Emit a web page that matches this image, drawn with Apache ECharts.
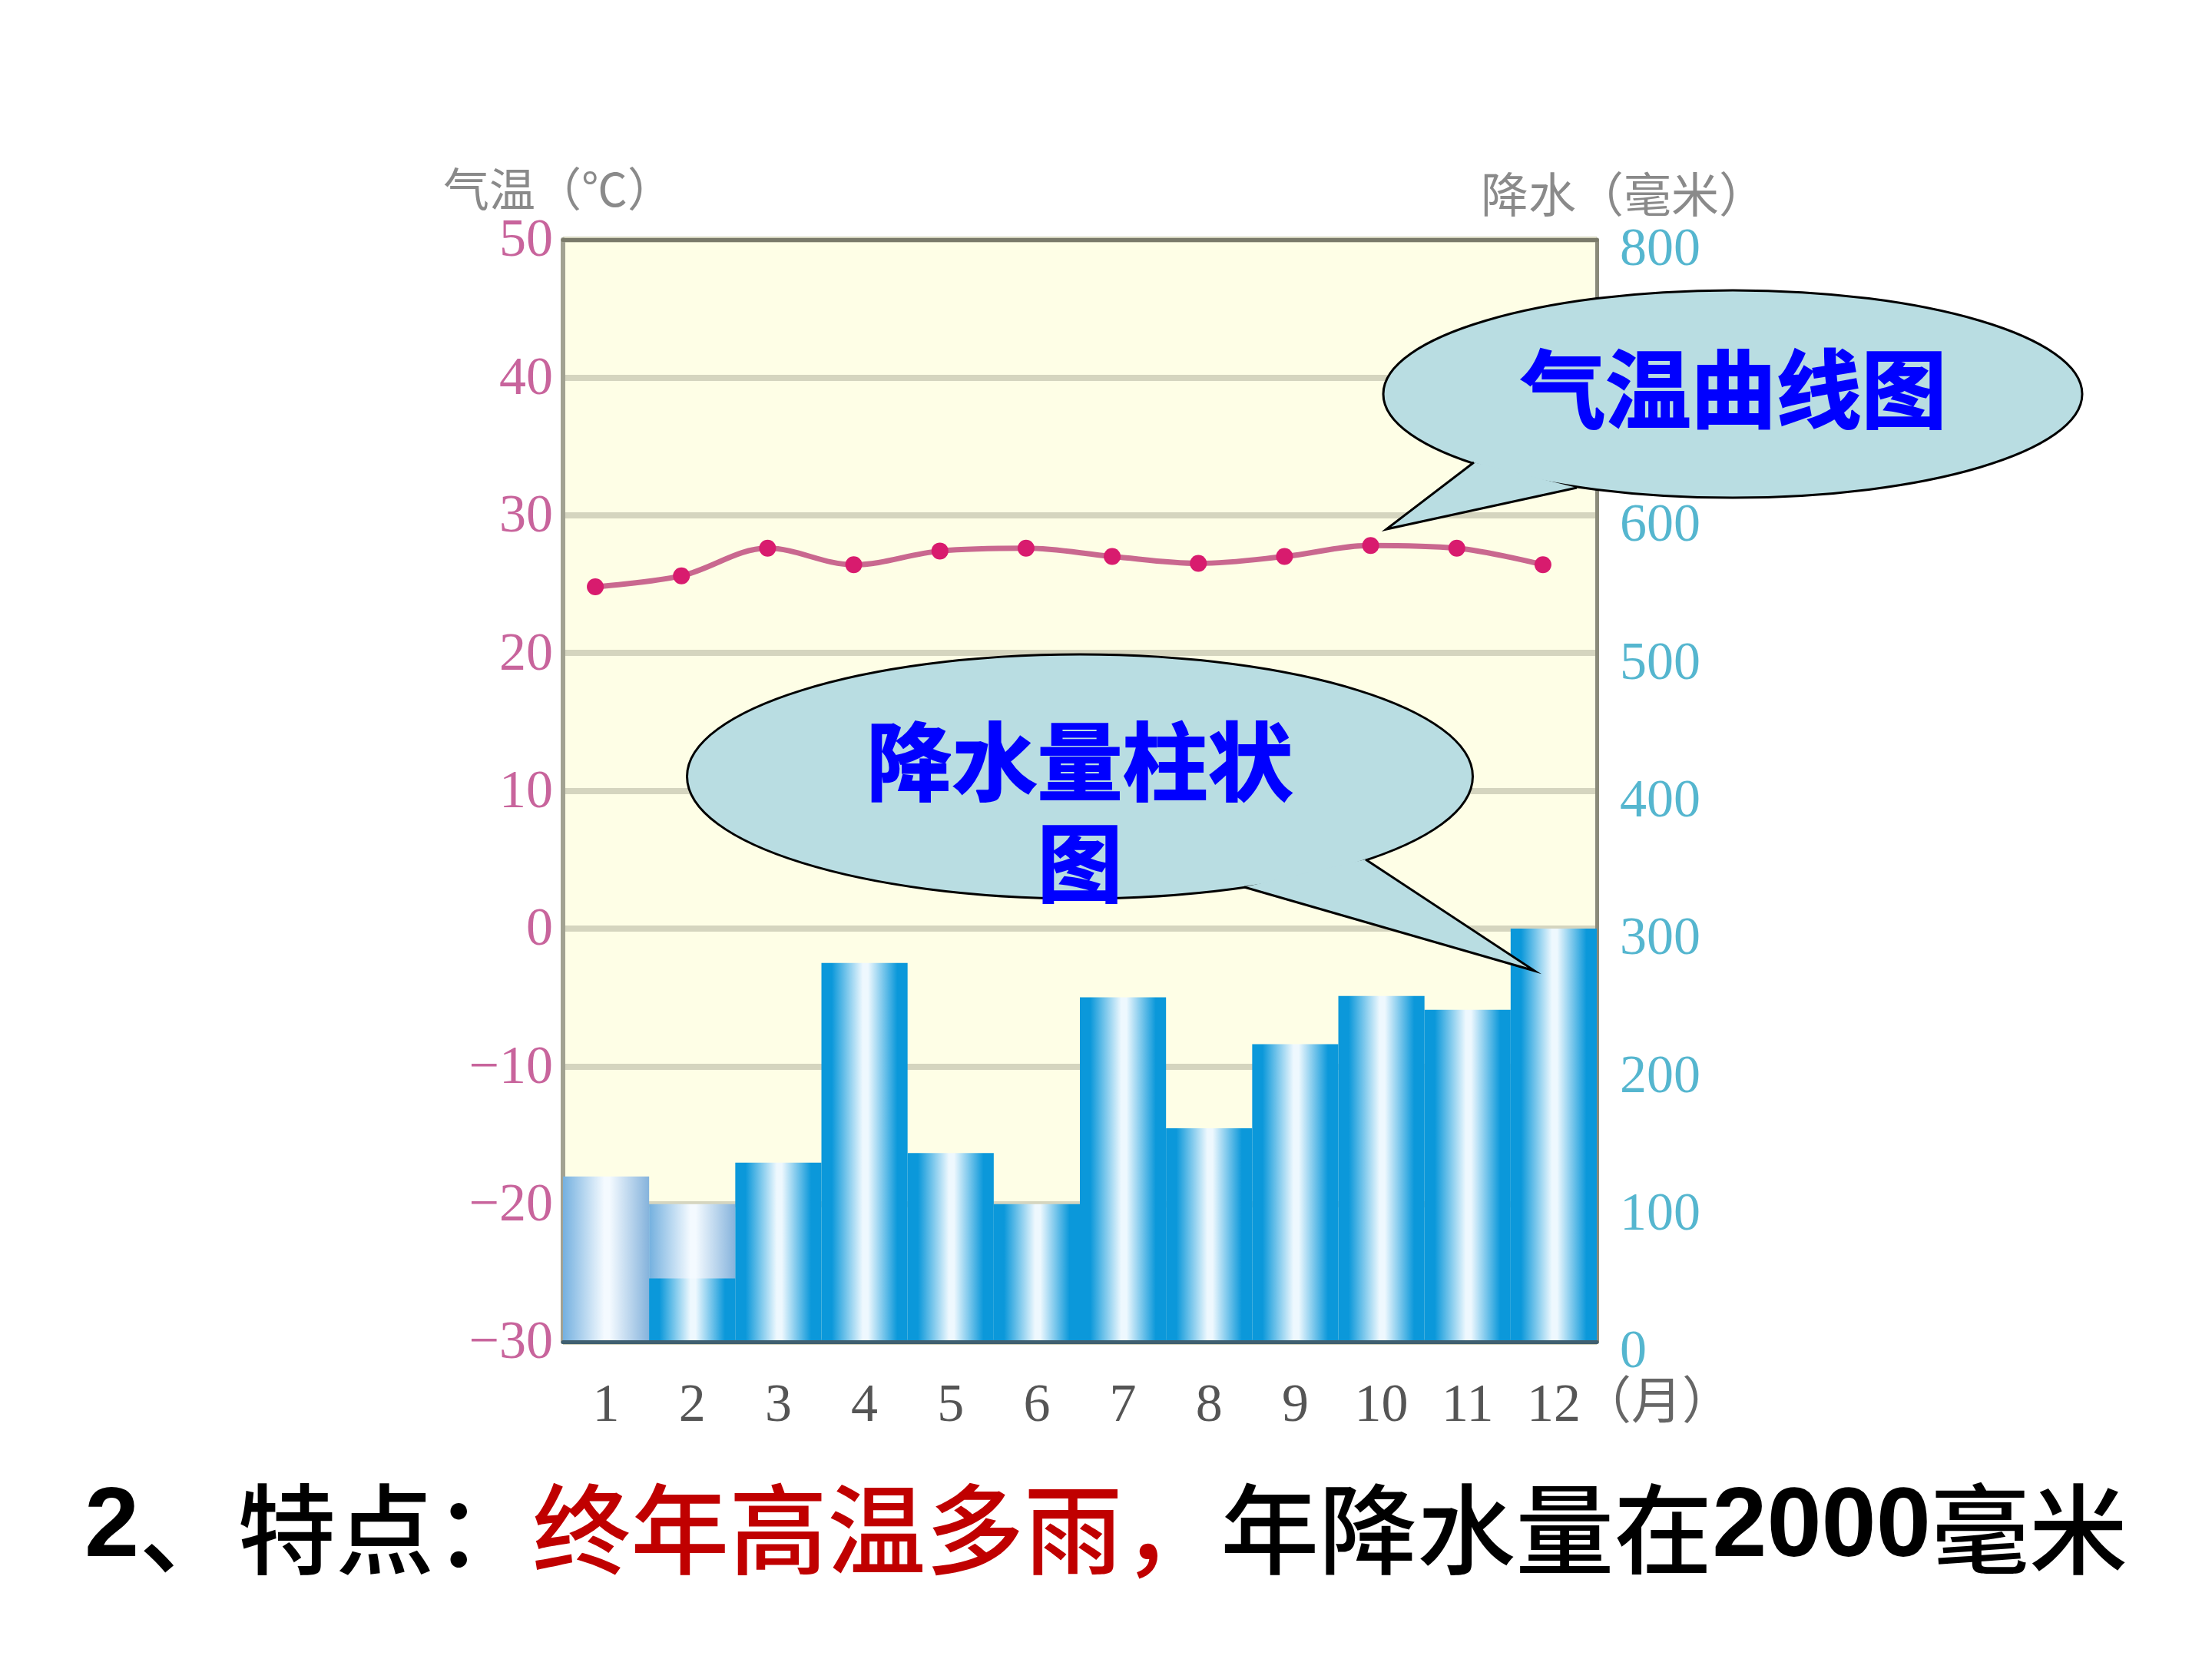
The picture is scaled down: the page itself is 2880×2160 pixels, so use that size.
<!DOCTYPE html>
<html>
<head>
<meta charset="utf-8">
<script src="https://cdn.jsdelivr.net/npm/echarts@6/dist/echarts.min.js"></script>
<style>html,body{margin:0;padding:0;background:#fff}#c{width:2880px;height:2160px}</style>
</head>
<body>
<div id="c"></div>
<script>
const months = ['1','2','3','4','5','6','7','8','9','10','11','12'];
const monthNumbers = [1,2,3,4,5,6,7,8,9,10,11,12];
const rainfall = [120,100,130,275,137,100,250,155,216,251,241,300];
const rainfallLowerBar2 = [null,46,null,null,null,null,null,null,null,null,null,null];
const temperature = [24.8,25.6,27.6,26.4,27.4,27.6,27.0,26.5,27.0,27.8,27.6,26.4];

const grad = (a,b,c,s=0) => new echarts.graphic.LinearGradient(0,0,1,0,[
  {offset:0,color:a},{offset:s,color:a},{offset:.48,color:b},{offset:.54,color:b},{offset:1-s,color:c},{offset:1,color:c}]);
const strongBar = grad('#0b98da','#eef8fe','#0b98da',.12);
const paleBar = grad('#74b0df','#f4faff','#85b3dc',0);
const serif = '"Liberation Serif"';
const cjk = '"Noto Sans CJK SC"';
const heavy = {font:'bold 111px "Noto Sans CJK SC"',fill:'#0000ff',stroke:'#0000ff',lineWidth:2,align:'center',verticalAlign:'middle'};
const captionFont = {fontFamily:cjk,fontWeight:500,fontSize:128};
const digitFont = {fontFamily:'"Liberation Sans"',fontWeight:'bold',fontSize:128};

const chart = echarts.init(document.getElementById('c'),null,{renderer:'canvas'});
chart.setOption({
  animation:false,
  backgroundColor:'#fff',
  grid:{left:733,right:801,top:312,bottom:413,show:true,backgroundColor:'#fefee6',borderWidth:0},
  xAxis:[
    {type:'category',data:months,position:'bottom',z:3,boundaryGap:true,
     axisLine:{show:true,onZero:false,lineStyle:{color:'#3f5f70',width:5}},axisTick:{show:false},
     axisLabel:{margin:50,fontFamily:serif,fontSize:70,color:'#555'},
     name:'（月）',nameLocation:'end',nameGap:-21,nameMoveOverlap:false,
     nameTextStyle:{fontFamily:cjk,fontSize:66,color:'#666',verticalAlign:'top',lineHeight:150}},
    {type:'value',min:0.625,max:12.625,position:'top',
     axisLine:{show:true,onZero:false,lineStyle:{color:'#7a7a6a',width:5}},axisTick:{show:false},
     axisLabel:{show:false},splitLine:{show:false}}
  ],
  yAxis:[
    {type:'value',min:-30,max:50,interval:10,position:'left',
     axisLine:{show:true,onZero:false,lineStyle:{color:'#a2a292',width:6}},axisTick:{show:false},
     axisLabel:{margin:13,fontFamily:serif,fontSize:70,color:'#c8649c',verticalAlign:'top',lineHeight:6,
       formatter:v=>String(v).replace('-','−')},
     splitLine:{show:true,lineStyle:{color:'#d5d5bf',width:8}},
     name:'气温（℃）',nameLocation:'end',nameGap:36,nameMoveOverlap:false,
     nameTextStyle:{fontFamily:cjk,fontSize:60,color:'#8a8a8a',align:'center',padding:[0,12,0,0]}},
    {type:'value',min:0,max:800,interval:100,position:'right',
     axisLine:{show:true,onZero:false,lineStyle:{color:'#8a8a7a',width:5}},axisTick:{show:false},
     axisLabel:{margin:30,fontFamily:serif,fontSize:70,color:'#55b6cf',verticalAlign:'top',lineHeight:30},
     splitLine:{show:false},
     name:'降水（毫米）',nameLocation:'end',nameGap:28,nameMoveOverlap:false,
     nameTextStyle:{fontFamily:cjk,fontSize:62,color:'#8a8a8a',align:'center',padding:[0,0,0,70]}}
  ],
  series:[
    {name:'降水',type:'bar',xAxisIndex:0,yAxisIndex:1,barWidth:'100%',barGap:'-100%',
     data:rainfall.map((v,i)=>({value:v,itemStyle:{color:i<2?paleBar:strongBar}}))},
    {name:'降水2',type:'bar',xAxisIndex:0,yAxisIndex:1,barWidth:'100%',barGap:'-100%',
     data:rainfallLowerBar2,itemStyle:{color:strongBar}},
    {name:'气温',type:'line',xAxisIndex:1,yAxisIndex:0,smooth:.35,
     data:monthNumbers.map((m,i)=>[m,temperature[i]]),
     lineStyle:{color:'#c9688f',width:7},
     symbol:'circle',symbolSize:22,itemStyle:{color:'#d81b6e'},z:5}
  ],
  graphic:[
    {type:'ellipse',z:100,shape:{cx:2256,cy:513,rx:455,ry:135},style:{fill:'#b9dde2',stroke:'#000',lineWidth:3}},
    {type:'polygon',z:101,shape:{points:[[1919,602],[2053,635],[1805,689]]},style:{fill:'#b9dde2'}},
    {type:'polyline',z:102,shape:{points:[[1919,602],[1805,689],[2053,635]]},style:{fill:null,stroke:'#000',lineWidth:3}},
    {type:'text',z:103,x:2257,y:507,style:Object.assign({text:'气温曲线图'},heavy)},
    {type:'ellipse',z:100,shape:{cx:1406,cy:1011,rx:511.5,ry:159},style:{fill:'#b9dde2',stroke:'#000',lineWidth:3}},
    {type:'polygon',z:101,shape:{points:[[1778,1119],[1620,1155],[1998,1264]]},style:{fill:'#b9dde2'}},
    {type:'polyline',z:102,shape:{points:[[1778,1119],[1998,1264],[1620,1155]]},style:{fill:null,stroke:'#000',lineWidth:3}},
    {type:'text',z:103,x:1406,y:992,style:Object.assign({text:'降水量柱状'},heavy)},
    {type:'text',z:103,x:1406,y:1124,style:Object.assign({text:'图'},heavy)},
    {type:'text',z:103,x:110,y:1991,style:{
      text:'{d|2}{a|、特点：}{b|终年高温多雨，}{a|年降水量在}{d|2000}{a|毫米}',
      verticalAlign:'middle',
      rich:{
        a:Object.assign({fill:'#000',color:'#000'},captionFont),
        b:Object.assign({fill:'#c00000',color:'#c00000'},captionFont),
        d:Object.assign({fill:'#000',color:'#000'},digitFont)
      }}}
  ]
});
</script>
</body>
</html>
